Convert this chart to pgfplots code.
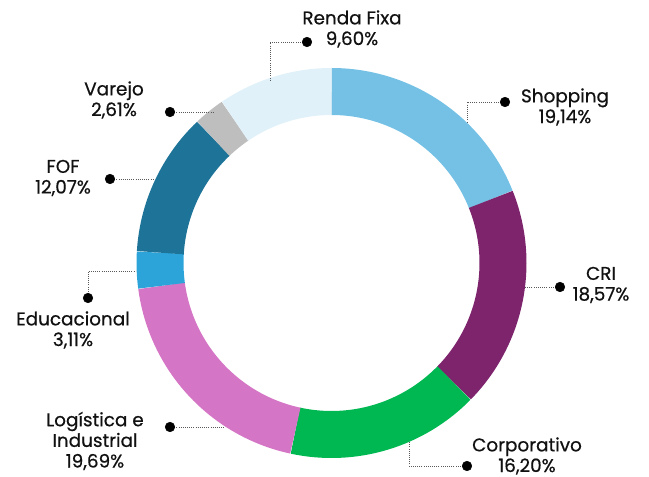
\documentclass[border=0pt]{standalone}
\usepackage{pgfplots}
\pgfplotsset{compat=1.18}
\usepackage{fontspec}
\setmainfont{Poppins}[FakeBold=0.6]
\definecolor{cShop}{HTML}{74C1E5}
\definecolor{cCRI}{HTML}{7D246D}
\definecolor{cCorp}{HTML}{00B852}
\definecolor{cLog}{HTML}{D575C5}
\definecolor{cEdu}{HTML}{2CA4DA}
\definecolor{cFOF}{HTML}{1D7398}
\definecolor{cVar}{HTML}{BEBEBE}
\definecolor{cRF}{HTML}{E1F1F9}
\definecolor{txt}{HTML}{111111}
\begin{document}
\begin{tikzpicture}[font=\fontsize{13.8}{15.5}\selectfont]
\begin{axis}[x=0.75pt,y=0.75pt,xmin=0,xmax=649,ymin=0,ymax=477,y dir=reverse,
  hide axis,clip=false,scale only axis]
\addplot[draw=none] coordinates {(0,0) (649,477)};
\xdef\cum{0}
\foreach \v/\c in {19.14/cShop,18.57/cCRI,16.20/cCorp,19.69/cLog,3.11/cEdu,12.07/cFOF,2.61/cVar,9.60/cRF}{
  \pgfmathsetmacro\aone{90-\cum*3.564709}
  \pgfmathsetmacro\atwo{90-(\cum+\v)*3.564709}
  \edef\tmp{\noexpand\draw[line width=35.25pt,color=\c] (axis cs:331.5,263) ++(\aone:128.625pt) arc[start angle=\aone,end angle=\atwo,radius=128.625pt];}
  \tmp
  \pgfmathsetmacro\newcum{\cum+\v}
  \xdef\cum{\newcum}
}
% leader lines
\addplot[densely dotted,line width=0.6pt,gray!70!black] coordinates {(307,42) (270,42) (270,80)};
\addplot[densely dotted,line width=0.6pt,gray!70!black] coordinates {(505,102) (467,102) (467,122)};
\addplot[densely dotted,line width=0.6pt,gray!70!black] coordinates {(560,287) (525,287)};
\addplot[densely dotted,line width=0.6pt,gray!70!black] coordinates {(467,466) (409,466) (409,442)};
\addplot[densely dotted,line width=0.6pt,gray!70!black] coordinates {(170,427) (225,427)};
\addplot[densely dotted,line width=0.6pt,gray!70!black] coordinates {(88,298) (88,271) (135,271)};
\addplot[densely dotted,line width=0.6pt,gray!70!black] coordinates {(170,112) (213,112)};
\addplot[densely dotted,line width=0.6pt,gray!70!black] coordinates {(110,179) (153,179)};
% dots
\addplot[only marks,mark=*,mark size=3.6pt,black] coordinates {(307,42) (505,102) (560,287) (467,466) (170,427) (88,298) (170,112) (110,179)};
% labels
\tikzset{lab/.style={align=center,inner sep=0pt,text=txt,anchor=center}}
\node[lab] at (axis cs:352,29) {Renda Fixa\\9,60\%};
\node[lab] at (axis cs:565,107) {Shopping\\19,14\%};
\node[lab] at (axis cs:601,285) {CRI\\18,57\%};
\node[lab] at (axis cs:527,456) {Corporativo\\16,20\%};
\node[lab] at (axis cs:95,441) {Logística e\\Industrial\\19,69\%};
\node[lab] at (axis cs:73,330) {Educacional\\3,11\%};
\node[lab] at (axis cs:114,100) {Varejo\\2,61\%};
\node[lab] at (axis cs:63,178) {FOF\\12,07\%};
\end{axis}
\end{tikzpicture}
\end{document}
